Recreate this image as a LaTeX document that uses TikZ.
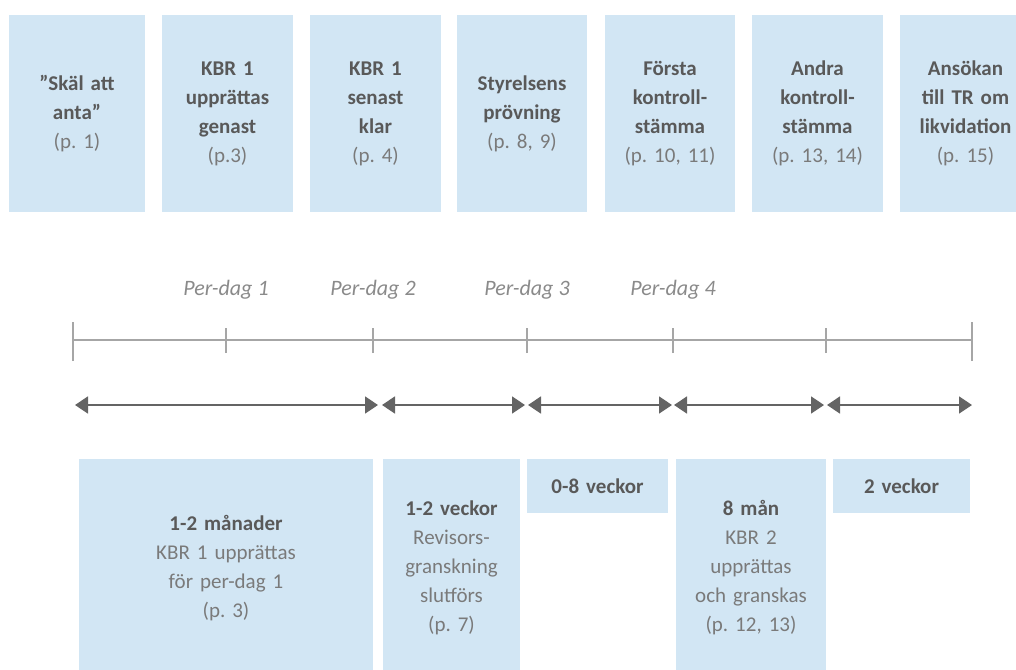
\documentclass[tikz,border=0pt]{standalone}
\usepackage{fontspec}
\setmainfont{Carlito}
\usetikzlibrary{arrows.meta}
\definecolor{boxblue}{HTML}{D2E6F4}
\definecolor{darktxt}{HTML}{595959}
\definecolor{lighttxt}{HTML}{7A7A7A}
\definecolor{axisgray}{HTML}{A6A6A6}
\definecolor{arrowgray}{HTML}{646464}
\definecolor{labelgray}{HTML}{8A8A8A}
\newcommand{\hd}[1]{\textcolor{darktxt}{\bfseries #1}}
\frenchspacing
\begin{document}
\begin{tikzpicture}[x=1pt,y=-1pt,
  boxbase/.style={fill=boxblue, draw=none, inner sep=0pt, align=center,
    text=lighttxt, font=\fontsize{21}{29}\selectfont\frenchspacing},
  topbox/.style={boxbase, minimum height=197pt},
  tallbox/.style={boxbase, minimum height=218pt},
  shortbox/.style={boxbase, minimum height=54pt},
  axisline/.style={draw=axisgray, line width=2pt},
  perlabel/.style={text=labelgray, font=\fontsize{22}{26}\selectfont\itshape, inner sep=0pt},
  span/.style={draw=arrowgray, line width=1.6pt,
    {Triangle[length=13pt,width=17pt]}-{Triangle[length=13pt,width=17pt]}}
]
\useasboundingbox (0,0) rectangle (1016,669);
\clip (0,0) rectangle (1016,669);

% top boxes
\node[topbox, minimum width=136pt, text width=136pt] (k1) at (77,113.5)
  {\hd{”Skäl att}\\\hd{anta”}\\(p. 1)};
\node[topbox, minimum width=131pt, text width=131pt] (k2) at (227.5,113.5)
  {\hd{KBR 1}\\\hd{upprättas}\\\hd{genast}\\(p.3)};
\node[topbox, minimum width=131pt, text width=131pt] (k3) at (375.5,113.5)
  {\hd{KBR 1}\\\hd{senast}\\\hd{klar}\\(p. 4)};
\node[topbox, minimum width=130pt, text width=130pt] (k4) at (522,113.5)
  {\hd{Styrelsens}\\\hd{prövning}\\(p. 8, 9)};
\node[topbox, minimum width=130pt, text width=130pt] (k5) at (670,113.5)
  {\hd{Första}\\\hd{kontroll-}\\\hd{stämma}\\(p. 10, 11)};
\node[topbox, minimum width=131pt, text width=131pt] (k6) at (817.5,113.5)
  {\hd{Andra}\\\hd{kontroll-}\\\hd{stämma}\\(p. 13, 14)};
\node[topbox, minimum width=131pt, text width=131pt] (k7) at (965.5,113.5)
  {\hd{Ansökan}\\\hd{till TR om}\\\hd{likvidation}\\(p. 15)};

% per-dag labels
\node[perlabel] (pd1) at (226,290) {Per-dag 1};
\node[perlabel] (pd2) at (373,290) {Per-dag 2};
\node[perlabel] (pd3) at (527,290) {Per-dag 3};
\node[perlabel] (pd4) at (673,290) {Per-dag 4};

% axis
\coordinate (t0) at (73,340);
\coordinate (t1) at (226,340);
\coordinate (t2) at (373,340);
\coordinate (t3) at (527,340);
\coordinate (t4) at (673,340);
\coordinate (t5) at (826,340);
\coordinate (t6) at (972,340);
\draw[axisline] (t0) -- (t6);
\draw[axisline] ([yshift=-21pt]t0) -- ([yshift=18pt]t0);
\draw[axisline] ([yshift=-21pt]t6) -- ([yshift=18pt]t6);
\foreach \t in {t1,t2,t3,t4,t5}
  \draw[axisline] ([yshift=-13pt]\t) -- ([yshift=12pt]\t);

% spans
\coordinate (b0) at (75,405);
\coordinate (b1) at (380,405);
\coordinate (b2) at (526.5,405);
\coordinate (b3) at (673,405);
\coordinate (b4) at (825.5,405);
\coordinate (b5) at (972,405);
\draw[span, shorten >=2pt] (b0) -- (b1);
\draw[span, shorten <=2pt, shorten >=1.5pt] (b1) -- (b2);
\draw[span, shorten <=1.5pt, shorten >=1pt] (b2) -- (b3);
\draw[span, shorten <=1pt, shorten >=1.5pt] (b3) -- (b4);
\draw[span, shorten <=1.5pt] (b4) -- (b5);

% bottom boxes
\node[tallbox, minimum width=294pt, text width=294pt] (d1) at (226,568)
  {\hd{1-2 månader}\\KBR 1 upprättas\\för per-dag 1\\(p. 3)};
\node[tallbox, minimum width=137pt, text width=137pt] (d2) at (451.5,568)
  {\hd{1-2 veckor}\\Revisors-\\granskning\\slutförs\\(p. 7)};
\node[shortbox, minimum width=141pt, text width=141pt] (d3) at (597.5,486)
  {\hd{0-8 veckor}};
\node[tallbox, minimum width=150pt, text width=150pt] (d4) at (751,568)
  {\hd{8 mån}\\KBR 2\\upprättas\\och granskas\\(p. 12, 13)};
\node[shortbox, minimum width=137pt, text width=137pt] (d5) at (901.5,486)
  {\hd{2 veckor}};
\end{tikzpicture}
\end{document}
